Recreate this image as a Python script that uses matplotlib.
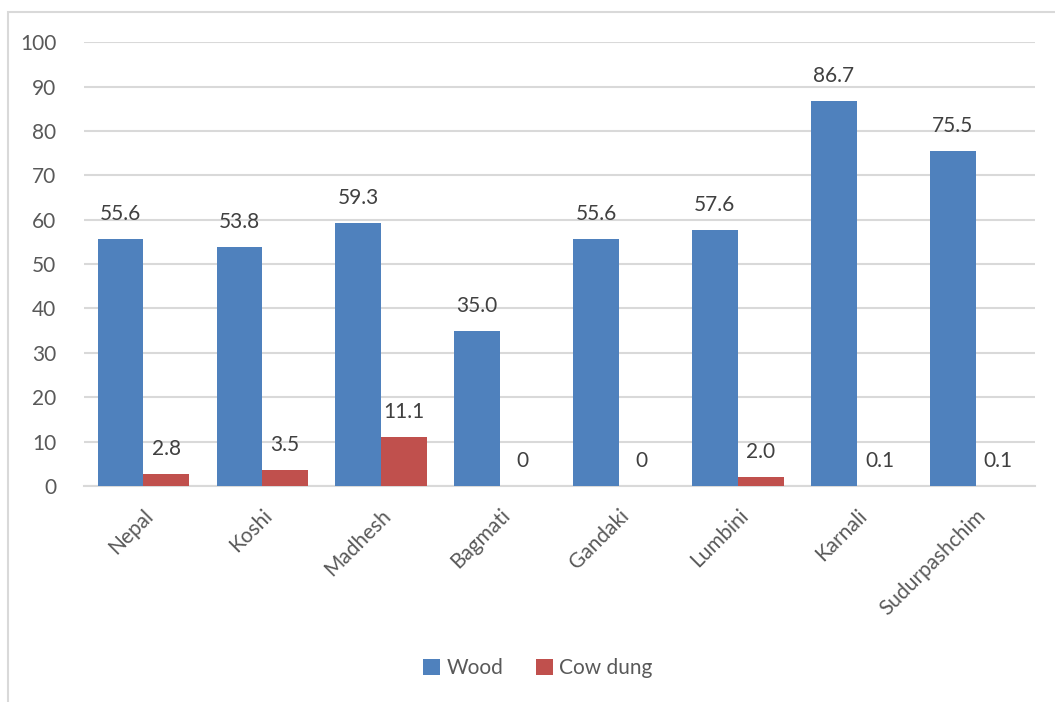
import matplotlib.pyplot as plt
import numpy as np
from matplotlib.patches import Rectangle

regions = ["Nepal", "Koshi", "Madhesh", "Bagmati", "Gandaki", "Lumbini", "Karnali", "Sudurpashchim"]
wood = [55.6, 53.8, 59.3, 35.0, 55.6, 57.6, 86.7, 75.5]
cow_dung = [2.8, 3.5, 11.1, 0, 0, 2.0, 0.1, 0.1]

WOOD_COLOR = "#4F81BD"
DUNG_COLOR = "#C0504D"
TEXT_COLOR = "#595959"
GRID_COLOR = "#D9D9D9"

plt.rcParams['font.family'] = ['Lato', 'DejaVu Sans']
FS = 15

fig = plt.figure(figsize=(10.55, 7.02), dpi=100)
ax = fig.add_axes([0.0796, 0.3077, 0.9014, 0.6323])

# chart border (runs off the right and bottom edge like the original)
fig.patches.append(Rectangle((8 / 1055, -0.05), 1.1, 1 - 12 / 702 + 0.05,
                             transform=fig.transFigure, fill=False,
                             edgecolor=GRID_COLOR, linewidth=1.5))

x = np.arange(len(regions))
width = 0.385
b1 = ax.bar(x - width / 2, wood, width, color=WOOD_COLOR, label="Wood", zorder=3)
b2 = ax.bar(x + width / 2, cow_dung, width, color=DUNG_COLOR, label="Cow dung", zorder=3)


def fmt(v):
    return "0" if v == 0 else f"{v:.1f}"


for bars, vals in ((b1, wood), (b2, cow_dung)):
    for rect, v in zip(bars, vals):
        ax.annotate(fmt(v), (rect.get_x() + rect.get_width() / 2, v),
                    xytext=(0, 18), textcoords="offset points",
                    ha="center", va="center", fontsize=FS, color="#404040")

ax.set_xlim(-0.5, len(regions) - 0.5)
ax.set_ylim(0, 100)
ax.set_yticks(range(0, 101, 10))
ax.yaxis.grid(True, color=GRID_COLOR, linewidth=1.5, zorder=0)
ax.set_axisbelow(True)
for side in ("top", "right", "left"):
    ax.spines[side].set_visible(False)
ax.spines["bottom"].set_color(GRID_COLOR)
ax.spines["bottom"].set_linewidth(1.5)
ax.tick_params(length=0, labelsize=FS, labelcolor=TEXT_COLOR)
ax.tick_params(axis="y", pad=20)
ax.set_xticks(x)
ax.set_xticklabels(regions, rotation=45, ha="right", rotation_mode="anchor")
ax.tick_params(axis="x", pad=14)

fig.legend(handles=[b1, b2], loc="center", bbox_to_anchor=(0.51, 1 - 668 / 702),
           ncol=2, frameon=False, fontsize=FS, labelcolor=TEXT_COLOR,
           handlelength=0.8, handleheight=0.8, handletextpad=0.3, columnspacing=1.6)

fig.savefig("out.png", dpi=100)
